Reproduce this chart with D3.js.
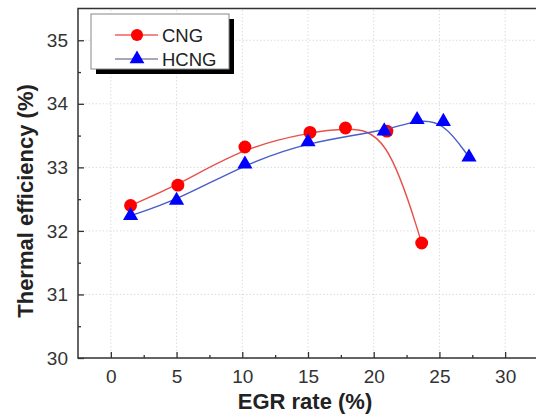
<!DOCTYPE html>
<html>
<head>
<meta charset="utf-8">
<script src="https://cdn.jsdelivr.net/npm/d3@7"></script>
<style>
  body { margin: 0; background: #fff; }
  text { font-family: "Liberation Sans", Arial, sans-serif; }
</style>
</head>
<body>
<div id="chart"></div>
<script>
// data
var cngX = [1.5, 5.1, 10.2, 15.15, 17.85, 21.0, 23.65];
var cngY = [32.40, 32.72, 33.32, 33.55, 33.62, 33.57, 31.81];
var hcngX = [1.5, 5.0, 10.2, 15.0, 20.8, 23.3, 25.3, 27.25];
var hcngY = [32.24, 32.48, 33.05, 33.40, 33.57, 33.75, 33.72, 33.16];
var xTicks = [0, 5, 10, 15, 20, 25, 30];
var yTicks = [30, 31, 32, 33, 34, 35];

var width = 536, height = 415;
var margin = {top: 8.5, right: -2, bottom: 57, left: 78};

var svg = d3.select("#chart")
  .append("svg")
    .attr("width", width)
    .attr("height", height);

var x = d3.scaleLinear()
    .domain([-2.5, 32.5])
    .range([margin.left, width - margin.right]);
var y = d3.scaleLinear()
    .domain([30, 35.5])
    .range([height - margin.bottom, margin.top]);

// dotted grid
var grid = svg.append("g").attr("stroke", "#dcdcdc").attr("stroke-dasharray", "1.5,2");
grid.selectAll(".gx").data(xTicks).enter().append("line")
    .attr("x1", function(d) { return x(d); })
    .attr("x2", function(d) { return x(d); })
    .attr("y1", y(30)).attr("y2", y(35.5));
grid.selectAll(".gy").data(yTicks).enter().append("line")
    .attr("x1", x(-2.5)).attr("x2", x(32.5))
    .attr("y1", function(d) { return y(d); })
    .attr("y2", function(d) { return y(d); });

// frame
svg.append("rect")
    .attr("x", x(-2.5)).attr("y", y(35.5))
    .attr("width", x(32.5) - x(-2.5))
    .attr("height", y(30) - y(35.5))
    .attr("fill", "none").attr("stroke", "#333").attr("stroke-width", 1.5);

// axes, ticks pointing inward
var xAxis = svg.append("g")
    .attr("transform", "translate(0," + y(30) + ")")
    .call(d3.axisBottom(x).tickValues(xTicks).tickSize(-6).tickPadding(12));
var xMinor = svg.append("g")
    .attr("transform", "translate(0," + y(30) + ")")
    .call(d3.axisBottom(x).tickValues(d3.range(2.5, 30, 5)).tickSize(-3).tickFormat(""));
var yAxis = svg.append("g")
    .attr("transform", "translate(" + x(-2.5) + ",0)")
    .call(d3.axisLeft(y).tickValues(yTicks).tickSize(-6).tickPadding(10).tickFormat(d3.format("d")));
var yMinor = svg.append("g")
    .attr("transform", "translate(" + x(-2.5) + ",0)")
    .call(d3.axisLeft(y).tickValues(d3.range(30.5, 35.5, 1)).tickSize(-3).tickFormat(""));

[xAxis, xMinor, yAxis, yMinor].forEach(function(a) {
  a.select(".domain").remove();
  a.selectAll("line").attr("stroke", "#333").attr("stroke-width", 1.3);
  a.selectAll("text").attr("fill", "#333").style("font-size", "19px");
});

// series
function drawSeries(xs, ys, lineColor, markColor, shape) {
  var pts = xs.map(function(d, i) { return [d, ys[i]]; });
  var line = d3.line()
      .x(function(d) { return x(d[0]); })
      .y(function(d) { return y(d[1]); })
      .curve(d3.curveBasis);
  svg.append("path")
      .datum(pts)
      .attr("d", line)
      .attr("fill", "none")
      .attr("stroke", lineColor)
      .attr("stroke-width", 1.4);
  svg.append("g").selectAll("path")
      .data(pts)
      .enter().append("path")
      .attr("transform", function(d) { return "translate(" + x(d[0]) + "," + y(d[1]) + ")"; })
      .attr("d", d3.symbol().type(shape).size(shape === d3.symbolCircle ? 130 : 100))
      .attr("fill", markColor);
}
drawSeries(cngX, cngY, "#e8504a", "#ff0000", d3.symbolCircle);
drawSeries(hcngX, hcngY, "#4a5cc8", "#0000ff", d3.symbolTriangle);

// legend
var lg = svg.append("g");
lg.append("rect").attr("x", 96).attr("y", 19).attr("width", 138).attr("height", 55).attr("fill", "#000");
lg.append("rect").attr("x", 91).attr("y", 14).attr("width", 138).attr("height", 55)
    .attr("fill", "#fff").attr("stroke", "#888").attr("stroke-width", 1);
var legendItems = [
  {name: "CNG", line: "#f06060", mark: "#ff0000", shape: d3.symbolCircle, size: 115},
  {name: "HCNG", line: "#8a8aa0", mark: "#0000ff", shape: d3.symbolTriangle, size: 95}
];
legendItems.forEach(function(d, i) {
  var cy = 35 + i * 24;
  lg.append("line").attr("x1", 115).attr("x2", 158).attr("y1", cy).attr("y2", cy)
      .attr("stroke", d.line).attr("stroke-width", 1.3);
  lg.append("path").attr("transform", "translate(137," + cy + ")")
      .attr("d", d3.symbol().type(d.shape).size(d.size)).attr("fill", d.mark);
  lg.append("text").attr("x", 162).attr("y", cy + 6.5)
      .attr("fill", "#222").style("font-size", "18.5px").text(d.name);
});

// axis titles
svg.append("text")
    .attr("x", 305).attr("y", 409)
    .attr("text-anchor", "middle")
    .attr("fill", "#222")
    .style("font-size", "22px").style("font-weight", "bold")
    .text("EGR rate (%)");
svg.append("text")
    .attr("transform", "translate(33,201) rotate(-90)")
    .attr("text-anchor", "middle")
    .attr("fill", "#222")
    .style("font-size", "22px").style("font-weight", "bold")
    .text("Thermal efficiency (%)");
</script>
</body>
</html>
